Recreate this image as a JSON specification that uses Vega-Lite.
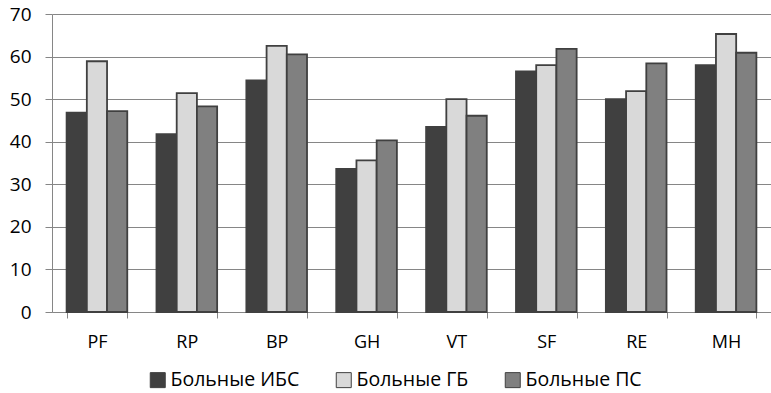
{
  "$schema": "https://vega.github.io/schema/vega-lite/v6.json",
  "autosize": "none",
  "width": 719,
  "height": 298,
  "padding": {"left": 52, "top": 14, "right": 0, "bottom": 81},
  "background": "white",
  "config": {
    "font": "Open Sans",
    "view": {"stroke": null}
  },
  "data": {
    "values": [
      {"cat": "PF", "group": "Больные ИБС", "v": 46.8},
      {"cat": "PF", "group": "Больные ГБ", "v": 58.9},
      {"cat": "PF", "group": "Больные ПС", "v": 47.2},
      {"cat": "RP", "group": "Больные ИБС", "v": 41.8},
      {"cat": "RP", "group": "Больные ГБ", "v": 51.4},
      {"cat": "RP", "group": "Больные ПС", "v": 48.3},
      {"cat": "BP", "group": "Больные ИБС", "v": 54.4},
      {"cat": "BP", "group": "Больные ГБ", "v": 62.5},
      {"cat": "BP", "group": "Больные ПС", "v": 60.5},
      {"cat": "GH", "group": "Больные ИБС", "v": 33.6},
      {"cat": "GH", "group": "Больные ГБ", "v": 35.6},
      {"cat": "GH", "group": "Больные ПС", "v": 40.3},
      {"cat": "VT", "group": "Больные ИБС", "v": 43.5},
      {"cat": "VT", "group": "Больные ГБ", "v": 50.0},
      {"cat": "VT", "group": "Больные ПС", "v": 46.1},
      {"cat": "SF", "group": "Больные ИБС", "v": 56.5},
      {"cat": "SF", "group": "Больные ГБ", "v": 58.0},
      {"cat": "SF", "group": "Больные ПС", "v": 61.8},
      {"cat": "RE", "group": "Больные ИБС", "v": 50.0},
      {"cat": "RE", "group": "Больные ГБ", "v": 51.9},
      {"cat": "RE", "group": "Больные ПС", "v": 58.4},
      {"cat": "MH", "group": "Больные ИБС", "v": 58.0},
      {"cat": "MH", "group": "Больные ГБ", "v": 65.3},
      {"cat": "MH", "group": "Больные ПС", "v": 60.9}
    ]
  },
  "mark": {"type": "bar", "stroke": "#404040", "strokeWidth": 1.8},
  "encoding": {
    "x": {
      "field": "cat",
      "type": "nominal",
      "sort": ["PF", "RP", "BP", "GH", "VT", "SF", "RE", "MH"],
      "scale": {"paddingInner": 0.325, "paddingOuter": 0.1625},
      "axis": {
        "title": null,
        "labelAngle": 0,
        "labelFontSize": 18,
        "labelColor": "#000000",
        "labelPadding": 15,
        "tickBand": "extent",
        "tickSize": 6,
        "tickColor": "#868686",
        "domainColor": "#868686",
        "domainWidth": 1,
        "grid": false
      }
    },
    "xOffset": {
      "field": "group",
      "type": "nominal",
      "sort": ["Больные ИБС", "Больные ГБ", "Больные ПС"]
    },
    "y": {
      "field": "v",
      "type": "quantitative",
      "scale": {"domain": [0, 70], "nice": false},
      "axis": {
        "title": null,
        "values": [0, 10, 20, 30, 40, 50, 60, 70],
        "labelFontSize": 19,
        "labelColor": "#000000",
        "labelPadding": 14,
        "tickSize": 7,
        "tickColor": "#868686",
        "domainColor": "#868686",
        "gridColor": "#868686",
        "gridWidth": 1,
        "grid": true
      }
    },
    "color": {
      "field": "group",
      "type": "nominal",
      "sort": ["Больные ИБС", "Больные ГБ", "Больные ПС"],
      "scale": {
        "domain": ["Больные ИБС", "Больные ГБ", "Больные ПС"],
        "range": ["#404040", "#d9d9d9", "#808080"]
      },
      "legend": {
        "title": null,
        "orient": "none",
        "legendX": 96,
        "legendY": 356,
        "direction": "horizontal",
        "symbolType": "square",
        "symbolSize": 225,
        "symbolStrokeColor": "#404040",
        "symbolStrokeWidth": 1,
        "labelFontSize": 19.5,
        "labelColor": "#000000",
        "labelOffset": 3,
        "columnPadding": 34
      }
    }
  }
}
